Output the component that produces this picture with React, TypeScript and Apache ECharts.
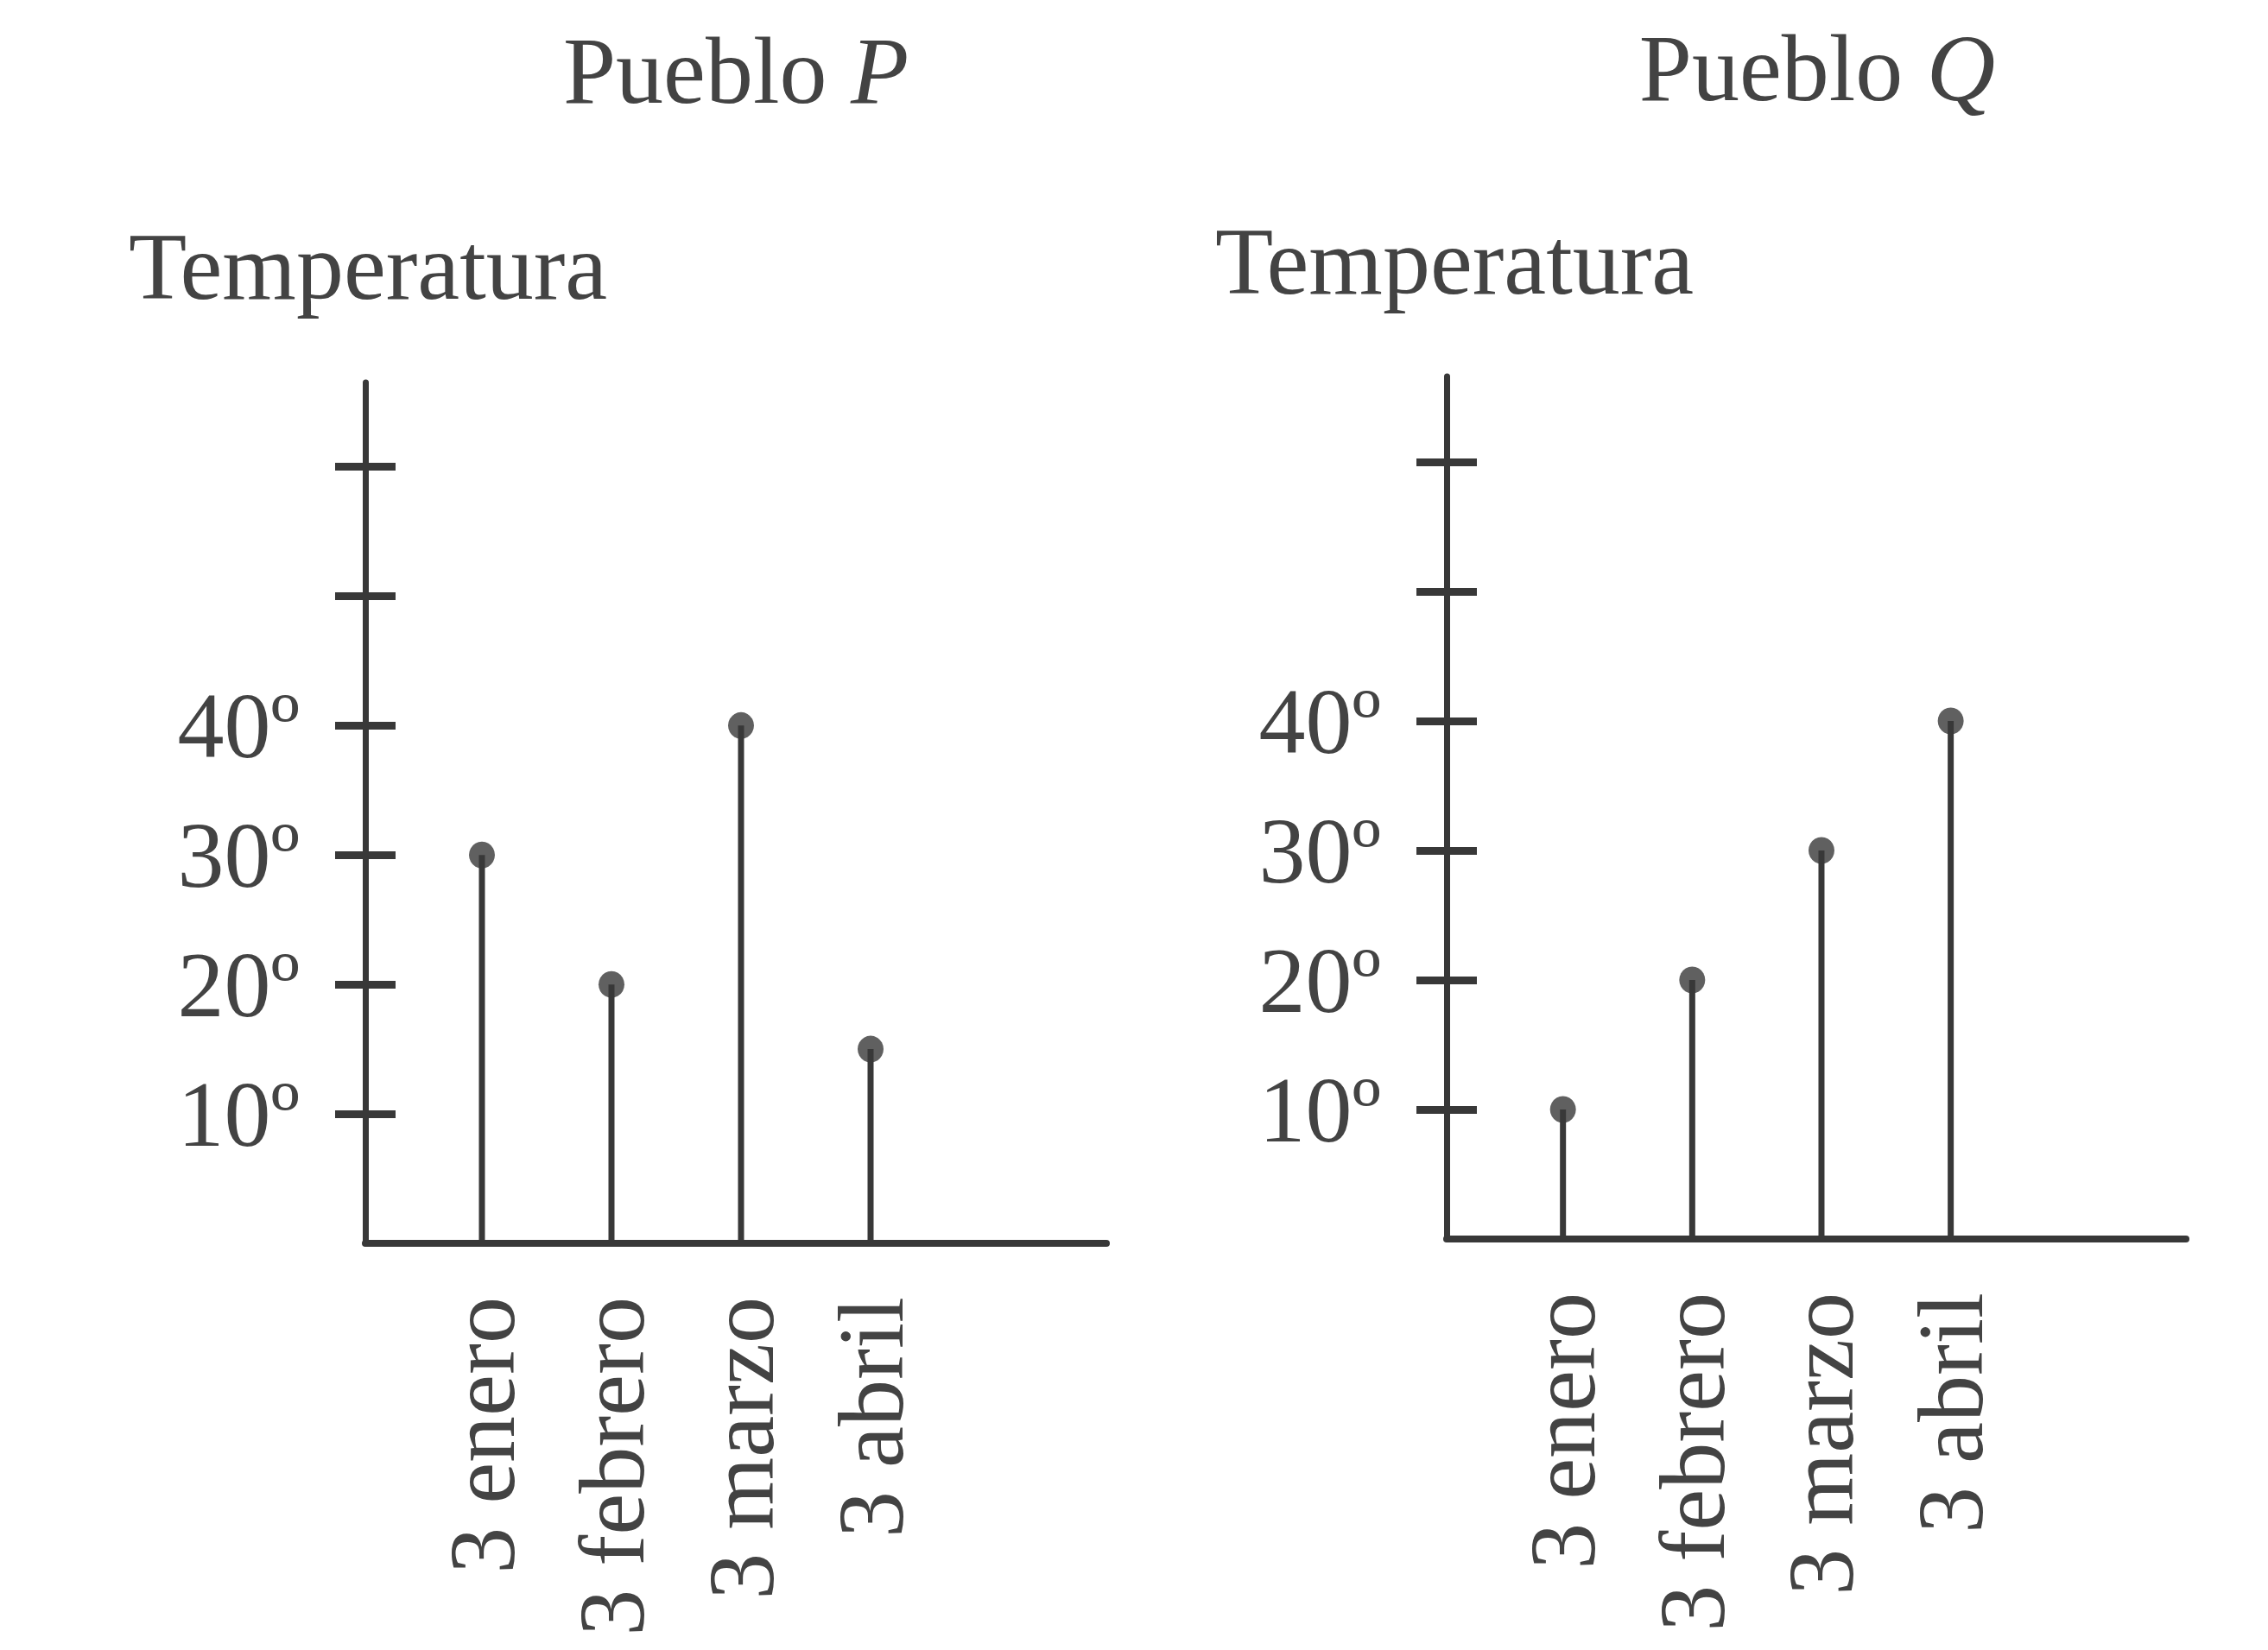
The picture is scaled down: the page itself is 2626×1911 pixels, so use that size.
import React, { useEffect, useRef } from "react";
import * as echarts from "echarts";

const categories = ["3 enero", "3 febrero", "3 marzo", "3 abril"];
const categoryIndex = [1, 2, 3, 4];
const puebloP = [30, 20, 40, 15];
const puebloQ = [10, 20, 30, 40];
const yTickValues = [10, 20, 30, 40, 50, 60];
const yLabelValues = [10, 20, 30, 40];
const titles = ["Pueblo", "Pueblo"];
const townLetters = ["P", "Q"];
const axisName = "Temperatura";

const INK = "#383838";
const TEXT = "#434343";
const FONT = "'Liberation Serif', 'Times New Roman', serif";

export default function App() {
  const ref = useRef<HTMLDivElement>(null);
  useEffect(() => {
    if (!ref.current) return;
    const chart = echarts.init(ref.current, undefined, { renderer: "svg" });

    const grids = [
      { left: 423, top: 443, width: 858, height: 997 },
      { left: 1675, top: 436, width: 856, height: 999 },
    ];
    const yMax = [66.5, 66.6];
    const datasets = [puebloP, puebloQ];

    const xAxis = grids.map((_, g) => ({
      type: "value",
      gridIndex: g,
      min: 0.1,
      max: 5.82,
      splitLine: { show: false },
      axisLine: { show: true, lineStyle: { color: INK, width: 8 } },
      axisTick: { show: false },
      axisLabel: {
        show: true,
        customValues: categoryIndex,
        formatter: (v: number) => categories[Math.round(v) - 1] ?? "",
        rotate: 90,
        margin: 62,
        fontSize: 108,
        fontFamily: FONT,
        color: TEXT,
      },
    }));

    const yAxis: any[] = [];
    grids.forEach((_, g) => {
      yAxis.push({
        type: "value",
        gridIndex: g,
        min: 0,
        max: yMax[g],
        splitLine: { show: false },
        axisLine: { show: true, lineStyle: { color: INK, width: 7 } },
        axisTick: {
          show: true,
          customValues: yTickValues,
          length: 35,
          lineStyle: { color: INK, width: 9 },
        },
        axisLabel: {
          show: true,
          customValues: yLabelValues,
          formatter: (v: number) => `${v}º`,
          margin: 76,
          fontSize: 108,
          fontFamily: FONT,
          color: TEXT,
        },
      });
      yAxis.push({
        type: "value",
        gridIndex: g,
        position: "left",
        min: 0,
        max: yMax[g],
        splitLine: { show: false },
        axisLine: { show: false },
        axisTick: {
          show: true,
          inside: true,
          customValues: yTickValues,
          length: 35,
          lineStyle: { color: INK, width: 9 },
        },
        axisLabel: { show: false },
      });
    });

    const series: any[] = [];
    datasets.forEach((vals, g) => {
      const data = vals.map((v, i) => [categoryIndex[i], v]);
      series.push({
        type: "bar",
        xAxisIndex: g,
        yAxisIndex: g * 2,
        data,
        barWidth: 7,
        itemStyle: { color: INK },
        silent: true,
      });
      series.push({
        type: "scatter",
        xAxisIndex: g,
        yAxisIndex: g * 2,
        data,
        symbol: "circle",
        symbolSize: [30, 31],
        itemStyle: { color: INK },
        z: 5,
        silent: true,
      });
    });

    const titleCenters = [852, 2104];
    const titleY = [82, 79];
    const nameLeft = [149, 1407];
    const nameY = [309, 303];

    const graphic: any[] = [];
    grids.forEach((_, g) => {
      graphic.push({
        type: "text",
        x: titleCenters[g],
        y: titleY[g],
        style: {
          text: `${titles[g]} {i|${townLetters[g]}}`,
          font: `110px ${FONT}`,
          fill: TEXT,
          align: "center",
          verticalAlign: "middle",
          rich: {
            i: { fontStyle: "italic", fontSize: 110, fontFamily: FONT, fill: TEXT, color: TEXT },
          },
        },
      });
      graphic.push({
        type: "text",
        x: nameLeft[g],
        y: nameY[g],
        style: {
          text: axisName,
          font: `110px ${FONT}`,
          fill: TEXT,
          align: "left",
          verticalAlign: "middle",
        },
      });
    });

    chart.setOption({
      animation: false,
      backgroundColor: "#ffffff",
      grid: grids.map((g) => ({ ...g, containLabel: false })),
      xAxis,
      yAxis,
      series,
      graphic,
    });
    return () => chart.dispose();
  }, []);
  return (
    <div
      ref={ref}
      style={{ position: "fixed", left: 0, top: 0, width: 2626, height: 1911 }}
    />
  );
}
